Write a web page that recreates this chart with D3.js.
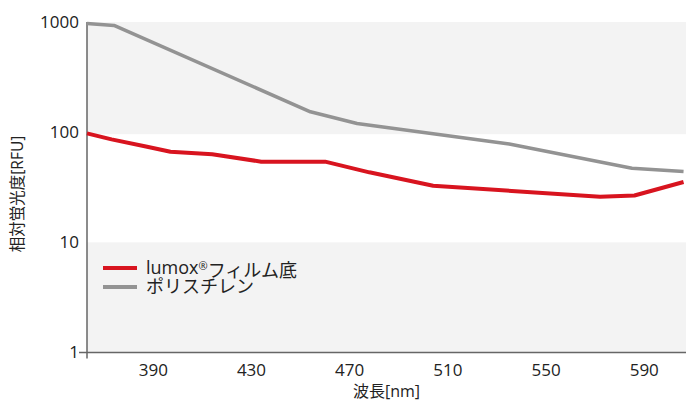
<!DOCTYPE html>
<html>
<head>
<meta charset="utf-8">
<script src="https://cdn.jsdelivr.net/npm/d3@7"></script>
<style>
    body { margin: 0; background: #fff; }
    text { font-family: "Open Sans", "Noto Sans CJK JP", sans-serif; fill: #222; }
</style>
</head>
<body>
<div id="chart"></div>
<script>
// data
const lumoxWl = [363, 373, 387, 397, 414, 434, 460, 478, 504, 572, 586, 606];
const lumoxVal = [97.5, 86, 74, 66.4, 62.9, 54, 54, 43.2, 32.6, 25.9, 26.6, 35.3];
const psWl = [363, 374, 454, 473, 535, 585, 606];
const psVal = [970, 930, 153, 120, 78, 47, 44];
const xTicks = [390, 430, 470, 510, 550, 590];
const yTicks = [1, 10, 100, 1000];
// legend names split around the superscript mark
const seriesNames = [["lumox", "®", "フィルム底"], ["ポリスチレン", "", ""]];
const seriesColors = ["#d8141f", "#939393"];

let margin = {top: 22, right: 3, bottom: 50.5, left: 87};
let width = 689 - margin.left - margin.right;
let height = 403 - margin.top - margin.bottom;

let svg = d3.select("#chart").append("svg")
    .attr("width", 689)
    .attr("height", 403)
    .append("g")
    .attr("transform", `translate(${margin.left}, ${margin.top})`);

let x = d3.scaleLinear().domain([363, 607]).range([0, width]);
let y = d3.scaleLog().domain([1, 1000]).range([height, 0]);

// shaded decades
svg.selectAll(".band")
    .data([[100, 1000], [1, 10]])
    .enter()
    .append("rect")
    .attr("class", "band")
    .attr("x", 0)
    .attr("width", width)
    .attr("y", d => y(d[1]))
    .attr("height", d => y(d[0]) - y(d[1]) + (d[0] == 100 ? 2 : 0))
    .attr("fill", "#f3f3f3");

// axis lines
svg.append("line")
    .attr("x1", -8).attr("x2", width)
    .attr("y1", height).attr("y2", height)
    .attr("stroke", "#666").attr("stroke-width", 1.5);
svg.append("line")
    .attr("x1", 0).attr("x2", 0)
    .attr("y1", 0).attr("y2", height + 6)
    .attr("stroke", "#666").attr("stroke-width", 1.5);

// tick labels
svg.selectAll(".ylab")
    .data(yTicks)
    .enter()
    .append("text")
    .attr("class", "ylab")
    .attr("x", -8)
    .attr("y", d => y(d))
    .attr("dy", "0.35em")
    .attr("text-anchor", "end")
    .style("font-size", "17px")
    .text(d => d);

svg.selectAll(".xlab")
    .data(xTicks)
    .enter()
    .append("text")
    .attr("class", "xlab")
    .attr("x", d => x(d))
    .attr("y", height + 18)
    .attr("dy", "0.35em")
    .attr("text-anchor", "middle")
    .style("font-size", "17px")
    .text(d => d);

// axis titles
svg.append("text")
    .attr("x", width / 2)
    .attr("y", height + 39)
    .attr("dy", "0.35em")
    .attr("text-anchor", "middle")
    .style("font-size", "16px")
    .text("波長[nm]");

svg.append("text")
    .attr("transform", `translate(${-69}, ${172}) rotate(-90)`)
    .attr("dy", "0.35em")
    .attr("text-anchor", "middle")
    .style("font-size", "15.5px")
    .text("相対蛍光度[RFU]");

// lines
let line = d3.line()
    .x(d => x(d[0]))
    .y(d => y(d[1]));

let series = [
    d3.zip(psWl, psVal),
    d3.zip(lumoxWl, lumoxVal)
];

svg.selectAll(".series")
    .data(series)
    .enter()
    .append("path")
    .attr("class", "series")
    .attr("d", line)
    .attr("fill", "none")
    .attr("stroke", (d, i) => i == 0 ? seriesColors[1] : seriesColors[0])
    .attr("stroke-width", (d, i) => i == 0 ? 3.5 : 4)
    .attr("stroke-linejoin", "round");

// legend
let legend = svg.selectAll(".legend")
    .data(seriesNames)
    .enter()
    .append("g")
    .attr("class", "legend")
    .attr("transform", (d, i) => `translate(16, ${246 + i * 19})`);

legend.append("line")
    .attr("x1", 0).attr("x2", 34)
    .attr("stroke", (d, i) => seriesColors[i])
    .attr("stroke-width", 4);

let legendText = legend.append("text")
    .attr("x", 43)
    .attr("dy", "0.35em")
    .style("font-size", "18px");

legendText.append("tspan").text(d => d[0]);
legendText.append("tspan")
    .attr("dy", "-0.4em")
    .style("font-size", "11px")
    .text(d => d[1]);
legendText.append("tspan")
    .attr("dy", d => d[1] ? "0.4em" : null)
    .text(d => d[2]);
</script>
</body>
</html>
